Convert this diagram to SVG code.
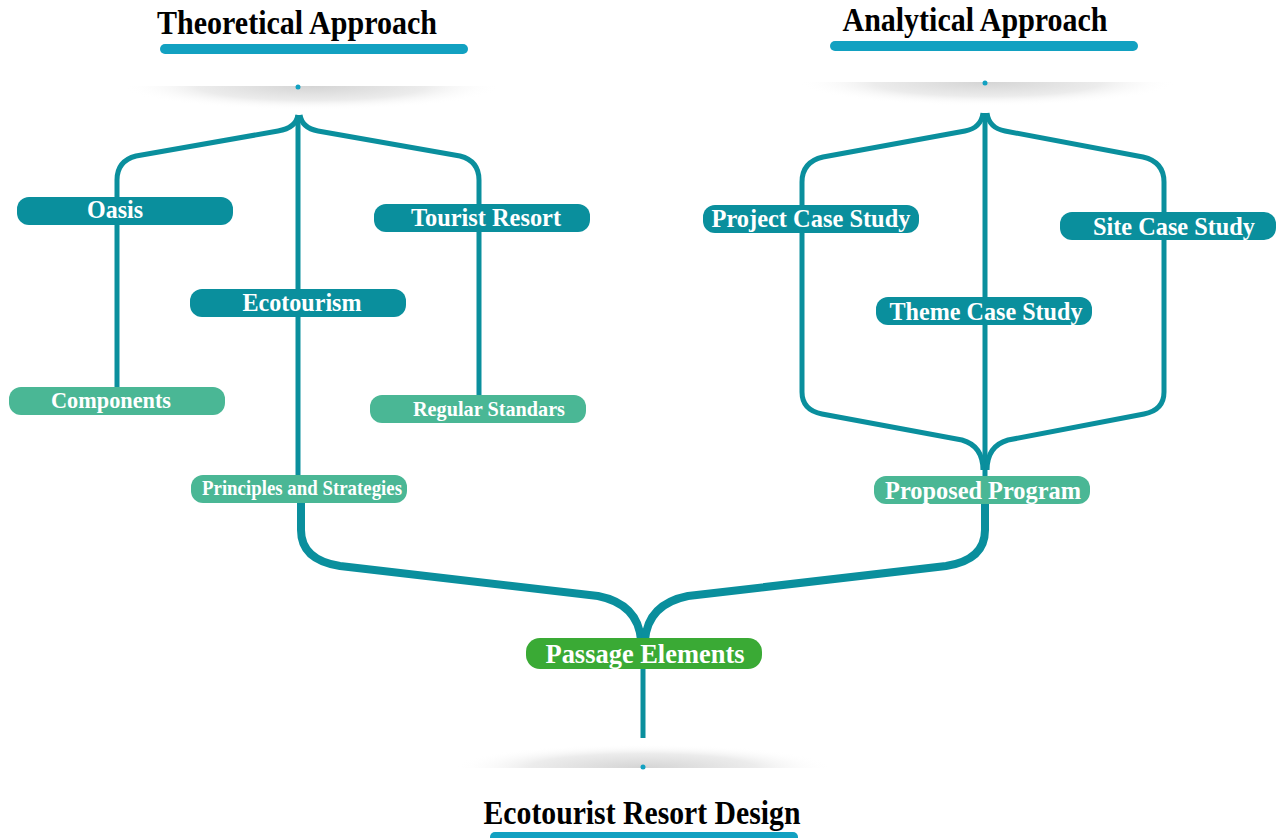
<svg xmlns="http://www.w3.org/2000/svg" width="1282" height="838" viewBox="0 0 1282 838">
<defs>
<style>
.t{font-family:"Liberation Serif","Times New Roman",serif;font-weight:bold;text-anchor:middle}
.title{font-size:33px;fill:#000}
.nt{fill:#fff}
.dark{fill:#0a8f9d}
.mint{fill:#4ab795}
.green{fill:#3aaa35}
.bar{fill:#12a1c1}
.c{fill:none;stroke:#0a8f9d;stroke-width:5;stroke-linecap:butt;stroke-linejoin:round}
.ck{fill:none;stroke:#0a8f9d;stroke-width:8;stroke-linejoin:round}
</style>
<radialGradient id="sh" cx="0.5" cy="0.5" r="0.5">
<stop offset="0" stop-color="#d4d4d4"/>
<stop offset="0.6" stop-color="#ececec"/>
<stop offset="1" stop-color="#ffffff" stop-opacity="0"/>
</radialGradient>
<clipPath id="clipTop1"><rect x="120" y="86" width="390" height="30"/></clipPath>
<clipPath id="clipTop2"><rect x="795" y="82" width="390" height="30"/></clipPath>
<clipPath id="clipBot"><rect x="450" y="738" width="390" height="30"/></clipPath>
</defs>

<g id="shadows">
<ellipse cx="312" cy="86" rx="190" ry="24" fill="url(#sh)" clip-path="url(#clipTop1)"/>
<ellipse cx="987" cy="82" rx="190" ry="24" fill="url(#sh)" clip-path="url(#clipTop2)"/>
<ellipse cx="643" cy="768" rx="190" ry="24" fill="url(#sh)" clip-path="url(#clipBot)"/>
<circle cx="298" cy="87" r="2.5" fill="#12a1c1"/>
<circle cx="985" cy="83" r="2.5" fill="#12a1c1"/>
<circle cx="643" cy="767" r="2.5" fill="#12a1c1"/>
</g>

<g id="connectors">
<path class="c" d="M298,115 V480"/>
<path class="c" d="M298,115 Q296,128 278,131 L136,156 Q117,161 117,180 V388"/>
<path class="c" d="M300,115 Q302,128 318,131 L460,156 Q479,161 479,180 V396"/>
<path class="c" d="M985,113 V477"/>
<path class="c" d="M983,113 Q981,128 965,131 L823,157 Q802,162 802,182 V392 Q802,410 822,414 L962,440 Q983,446 983,470"/>
<path class="c" d="M987,113 Q989,128 1005,131 L1143,157 Q1164,162 1164,182 V392 Q1164,410 1144,414 L1008,440 Q987,446 987,470"/>
<path class="ck" d="M301,503 V530 Q301,560 340,566 L598,596 Q638,604 641,640"/>
<path class="ck" d="M985,504 V530 Q985,560 946,566 L688,596 Q648,604 645,640"/>
<path class="c" d="M643,668 V738"/>
</g>

<g id="title-theoretical">
<text class="t title" x="297" y="34" textLength="280" lengthAdjust="spacingAndGlyphs">Theoretical Approach</text>
<rect class="bar" x="160" y="44" width="308" height="10" rx="5"/>
</g>
<g id="title-analytical">
<text class="t title" x="975" y="31" textLength="265" lengthAdjust="spacingAndGlyphs">Analytical Approach</text>
<rect class="bar" x="830" y="41" width="308" height="10" rx="5"/>
</g>
<g id="title-design">
<text class="t title" x="642" y="824" textLength="317" lengthAdjust="spacingAndGlyphs">Ecotourist Resort Design</text>
<rect class="bar" x="490" y="832" width="308" height="10" rx="5"/>
</g>

<g id="node-oasis">
<rect class="dark" x="17" y="197" width="216" height="28" rx="12"/>
<text class="t nt" x="115" y="218" font-size="25" textLength="56" lengthAdjust="spacingAndGlyphs">Oasis</text>
</g>
<g id="node-tourist-resort">
<rect class="dark" x="374" y="204" width="216" height="28" rx="12"/>
<text class="t nt" x="486" y="226" font-size="25" textLength="150" lengthAdjust="spacingAndGlyphs">Tourist Resort</text>
</g>
<g id="node-ecotourism">
<rect class="dark" x="190" y="289" width="216" height="28" rx="12"/>
<text class="t nt" x="302" y="311" font-size="25" textLength="119" lengthAdjust="spacingAndGlyphs">Ecotourism</text>
</g>
<g id="node-components">
<rect class="mint" x="9" y="387" width="216" height="28" rx="12"/>
<text class="t nt" x="111" y="408" font-size="23" textLength="120" lengthAdjust="spacingAndGlyphs">Components</text>
</g>
<g id="node-regular-standars">
<rect class="mint" x="370" y="395" width="216" height="28" rx="12"/>
<text class="t nt" x="489" y="416" font-size="21" textLength="152" lengthAdjust="spacingAndGlyphs">Regular Standars</text>
</g>
<g id="node-principles">
<rect class="mint" x="191" y="475" width="216" height="28" rx="12"/>
<text class="t nt" x="302" y="495" font-size="21" textLength="200" lengthAdjust="spacingAndGlyphs">Principles and Strategies</text>
</g>
<g id="node-project-case">
<rect class="dark" x="703" y="205" width="216" height="28" rx="12"/>
<text class="t nt" x="811" y="227" font-size="25" textLength="199" lengthAdjust="spacingAndGlyphs">Project Case Study</text>
</g>
<g id="node-site-case">
<rect class="dark" x="1060" y="212" width="216" height="28" rx="12"/>
<text class="t nt" x="1174" y="235" font-size="25" textLength="162" lengthAdjust="spacingAndGlyphs">Site Case Study</text>
</g>
<g id="node-theme-case">
<rect class="dark" x="876" y="297" width="216" height="28" rx="12"/>
<text class="t nt" x="986" y="320" font-size="25" textLength="193" lengthAdjust="spacingAndGlyphs">Theme Case Study</text>
</g>
<g id="node-proposed">
<rect class="mint" x="874" y="476" width="216" height="28" rx="12"/>
<text class="t nt" x="983" y="499" font-size="25" textLength="196" lengthAdjust="spacingAndGlyphs">Proposed Program</text>
</g>
<g id="node-passage">
<rect class="green" x="526" y="638" width="236" height="31" rx="14"/>
<text class="t nt" x="645" y="663" font-size="27" textLength="199" lengthAdjust="spacingAndGlyphs">Passage Elements</text>
</g>
</svg>
